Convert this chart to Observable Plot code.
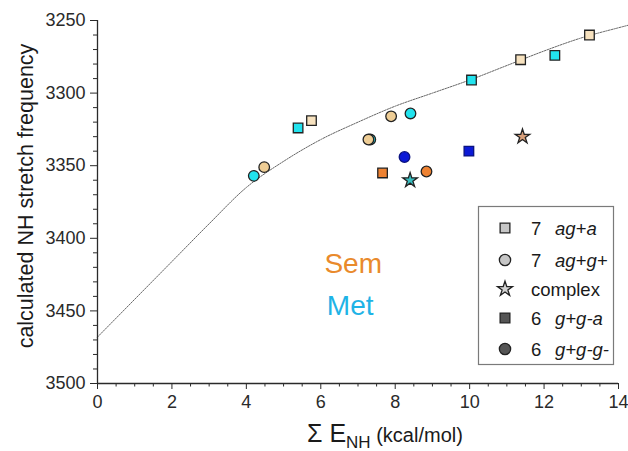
<!DOCTYPE html>
<html><head><meta charset="utf-8">
<script src="https://cdn.jsdelivr.net/npm/d3@7"></script>
<script src="https://cdn.jsdelivr.net/npm/@observablehq/plot@0.6"></script>
<style>
body{margin:0;background:#fff;}
#chart{position:relative;width:628px;height:451px;}
</style>
</head><body><div id="chart"></div>
<script>
// Data
const energies   = [13.22, 11.37, 12.29, 10.05, 5.75, 5.39, 8.41, 7.89, 7.33, 7.28, 4.20, 4.48, 8.25, 9.98, 11.42, 7.66, 8.40, 8.84];
const freqs      = [3260, 3277, 3274, 3291, 3319, 3324, 3314, 3316, 3332, 3332, 3357, 3351, 3344, 3340, 3330, 3355, 3360, 3354];
const molecules  = ["Sem","Sem","Met","Met","Sem","Met","Met","Sem","Met","Sem","Met","Sem","Met","Met","Sem","Sem","Met","Sem"];
const conformers = ["7 ag+a","7 ag+a","7 ag+a","7 ag+a","7 ag+a","7 ag+a","7 ag+g+","7 ag+g+","7 ag+g+","7 ag+g+","7 ag+g+","7 ag+g+","6 g+g-g-","6 g+g-a","complex","6 g+g-a","complex","6 g+g-g-"];

// fitted trend curve (dotted)
const fitX = [0, 1, 2, 3, 4, 5, 6, 7, 8, 9, 10, 11, 12, 13, 14, 14.3];
const fitY = [3468, 3442, 3416, 3390, 3365, 3347, 3332, 3320, 3309, 3300, 3291, 3281, 3271, 3262, 3255, 3253];

const xMajor = [0, 2, 4, 6, 8, 10, 12, 14];
const xMinor = d3.range(0, 14.01, 0.5).filter(v => v % 2 !== 0);
const yMajor = [3250, 3300, 3350, 3400, 3450, 3500];
const yMinor = d3.range(3250, 3501, 10).filter(v => v % 50 !== 0);

const legendNums   = ["7", "7", "", "6", "6"];
const legendTexts  = ["ag+a", "ag+g+", "complex", "g+g-a", "g+g-g-"];

const semLabel = [{label: "Sem", x: 6.87, y: 3418}];
const metLabel = [{label: "Met", x: 6.79, y: 3446.5}];

// styles
const keys = ["Sem|7 ag+a","Met|7 ag+a","Sem|7 ag+g+","Met|7 ag+g+","Sem|complex","Met|complex","Sem|6 g+g-a","Met|6 g+g-a","Sem|6 g+g-g-","Met|6 g+g-g-"];
const keyColors = ["#F7E2BF","#22E3EE","#EECD95","#22E3EE","#D8A07B","#37BDBF","#EE8232","#0B19D6","#EE8232","#0B19D6"];
const shapeOf = {"7 ag+a":"square","6 g+g-a":"square","7 ag+g+":"circle","6 g+g-g-":"circle","complex":"star"};

const pts = energies.map((e, i) => ({
  x: e, y: freqs[i], mol: molecules[i], conf: conformers[i],
  key: molecules[i] + "|" + conformers[i],
  shape: shapeOf[conformers[i]],
  blue: molecules[i] === "Met" && conformers[i].startsWith("6")
}));
const fit = fitX.map((x, i) => ({x, y: fitY[i]}));

const font = "'Liberation Sans', Arial, sans-serif";
const axisColor = "#2a2a2a";

const dotOpts = (shape, r, stroke) => ({x: "x", y: "y", fill: "key", symbol: shape, r, stroke, strokeWidth: 1.3});

const svg = Plot.plot({
  width: 628, height: 451,
  marginLeft: 97, marginRight: 10, marginTop: 20, marginBottom: 68,
  style: {fontFamily: font, background: "#fff", overflow: "visible"},
  x: {domain: [0, 14], label: null},
  y: {domain: [3250, 3500], reverse: true, label: null},
  color: {type: "ordinal", domain: keys, range: keyColors},
  marks: [
    Plot.line(fit, {x: "x", y: "y", curve: "monotone-x", stroke: "#555", strokeWidth: 0.9, strokeDasharray: "1.6,1.2"}),
    Plot.ruleX([0], {y1: 3250, y2: 3500, stroke: axisColor, strokeWidth: 1.3}),
    Plot.ruleY([3500], {x1: 0, x2: 14, stroke: axisColor, strokeWidth: 1.3}),
    Plot.axisY(yMajor, {tickSize: 7, tickPadding: 5, fontSize: 18, color: axisColor, label: null, tickFormat: d => String(d)}),
    Plot.axisY(yMinor, {tickSize: 4, tickFormat: () => "", color: axisColor, label: null}),
    Plot.axisX(xMajor, {tickSize: 6, tickPadding: 6, fontSize: 18, color: axisColor, label: null, tickFormat: d => String(d)}),
    Plot.axisX(xMinor, {tickSize: 3.5, tickFormat: () => "", color: axisColor, label: null}),
    Plot.dot(pts.filter(d => d.shape === "square" && !d.blue), dotOpts("square", 5.4, "#222")),
    Plot.dot(pts.filter(d => d.shape === "square" && d.blue), dotOpts("square", 5.4, "#0a1280")),
    Plot.dot(pts.filter(d => d.shape === "circle" && !d.blue), dotOpts("circle", 5.3, "#222")),
    Plot.dot(pts.filter(d => d.shape === "circle" && d.blue), dotOpts("circle", 5.3, "#0a1280")),
    Plot.dot(pts.filter(d => d.shape === "star"), dotOpts("star", 4.6, "#222")),
    Plot.text(semLabel, {x: "x", y: "y", text: "label", fontSize: 28, fill: "#E98A2C", textAnchor: "middle"}),
    Plot.text(metLabel, {x: "x", y: "y", text: "label", fontSize: 28, fill: "#1FB3E6", textAnchor: "middle"})
  ]
});

const s = d3.select(svg);

// y axis label
s.append("text")
  .attr("transform", "translate(33,196) rotate(-90)")
  .attr("text-anchor", "middle")
  .attr("font-family", font).attr("font-size", 21.5).attr("fill", "#1a1a1a")
  .text("calculated NH stretch frequency");

// x axis label
const xl = s.append("text").attr("x", 307).attr("y", 442).attr("text-anchor", "start")
  .attr("font-family", font).attr("fill", "#1a1a1a");
xl.append("tspan").attr("font-size", 25).text("\u03A3 E");
xl.append("tspan").attr("font-size", 17).attr("dy", 6).text("NH");
xl.append("tspan").attr("font-size", 20).attr("dy", -6).text(" (kcal/mol)");

// legend
const lg = s.append("g").attr("font-family", font).attr("font-size", 18.5).attr("fill", "#1a1a1a").attr("text-anchor", "start");
lg.append("rect").attr("x", 478.5).attr("y", 206.5).attr("width", 135).attr("height", 158)
  .attr("fill", "#fff").attr("stroke", "#7a7a7a").attr("stroke-width", 1.2);
const rowY = [228, 260, 289, 318, 349];
const legShapes = [d3.symbolSquare, d3.symbolCircle, d3.symbolStar, d3.symbolSquare, d3.symbolCircle];
const legSizes = [95, 100, 70, 95, 100];
const legFills = ["#c6c6c6", "#c6c6c6", "#d2d2d2", "#555", "#555"];
legendTexts.forEach((t, i) => {
  lg.append("path").attr("d", d3.symbol(legShapes[i], legSizes[i])())
    .attr("transform", `translate(505,${rowY[i]})`)
    .attr("fill", legFills[i]).attr("stroke", "#222").attr("stroke-width", 1.3);
  const tx = lg.append("text").attr("y", rowY[i]).attr("dy", "0.36em").attr("text-anchor", "start");
  if (legendNums[i]) {
    tx.append("tspan").attr("x", 531).text(legendNums[i]);
    tx.append("tspan").attr("x", 555).attr("font-style", "italic").text(t);
  } else {
    tx.append("tspan").attr("x", 531).text(t);
  }
});

document.getElementById("chart").appendChild(svg);
</script>
</body></html>
